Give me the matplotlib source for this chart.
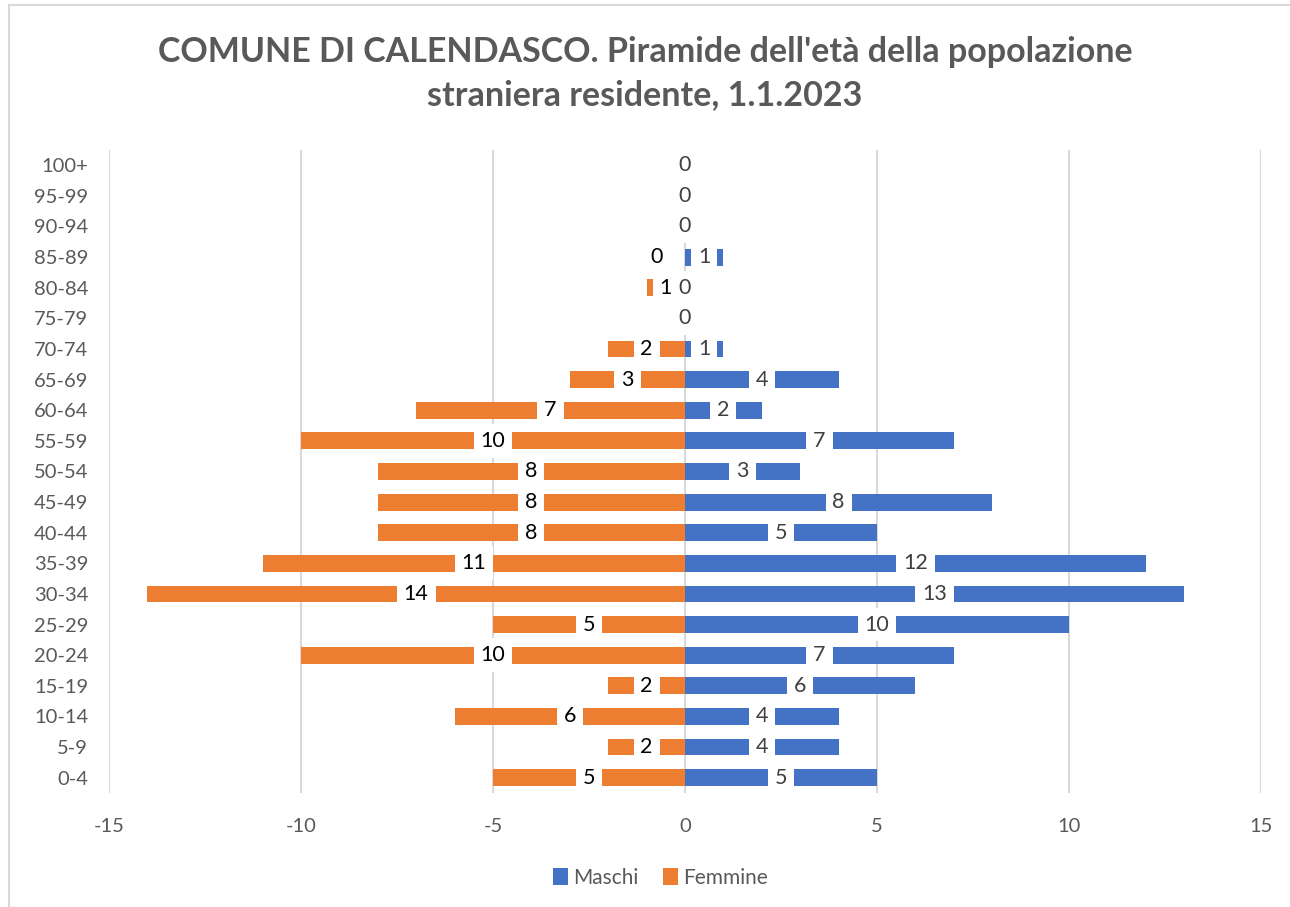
import matplotlib
matplotlib.use("Agg")
import matplotlib.pyplot as plt
import numpy as np
from matplotlib.patches import Rectangle

age_groups = ["0-4", "5-9", "10-14", "15-19", "20-24", "25-29", "30-34", "35-39",
              "40-44", "45-49", "50-54", "55-59", "60-64", "65-69", "70-74",
              "75-79", "80-84", "85-89", "90-94", "95-99", "100+"]
maschi = [5, 4, 4, 6, 7, 10, 13, 12, 5, 8, 3, 7, 2, 4, 1, 0, 0, 1, 0, 0, 0]
femmine = [5, 2, 6, 2, 10, 5, 14, 11, 8, 8, 8, 10, 7, 3, 2, 0, 1, 0, 0, 0, 0]
x_ticks = [-15, -10, -5, 0, 5, 10, 15]

BLUE = "#4472C4"
ORANGE = "#ED7D31"
GRID = "#D9D9D9"
TXT = "#595959"

plt.rcParams['font.family'] = ['Lato', 'DejaVu Sans']

fig = plt.figure(figsize=(12.9, 9.07), dpi=100)
ax = fig.add_axes([0.0845, 0.1257, 0.893, 0.709])

y = np.arange(len(age_groups))
f_neg = [-v for v in femmine]
bm = ax.barh(y, maschi, height=0.55, color=BLUE, label="Maschi", zorder=2)
bf = ax.barh(y, f_neg, height=0.55, color=ORANGE, label="Femmine", zorder=2)

# data labels in the middle of the bars, on a white box
for i in range(len(age_groups)):
    ax.text(maschi[i] / 2, y[i], str(maschi[i]), ha="center", va="center",
            fontsize=15.5, color="#404040", zorder=3,
            bbox=dict(facecolor="white", edgecolor="none", pad=5))
    fx = f_neg[i] / 2
    if femmine[i] == 0 and maschi[i] > 0:
        # Excel pushes the zero label aside when the male bar is there
        fx = -0.75
    ax.text(fx, y[i], str(femmine[i]), ha="center", va="center",
            fontsize=15.5, color="black", zorder=4 if femmine[i] else 2.5,
            bbox=dict(facecolor="white", edgecolor="none", pad=5))

ax.set_xlim(-15, 15)
ax.set_ylim(-0.5, len(age_groups) - 0.5)
ax.set_xticks(x_ticks)
ax.set_xticklabels([str(t) for t in x_ticks])
ax.set_yticks(y)
ax.set_yticklabels(age_groups)
ax.tick_params(axis="both", length=0, labelsize=14.5, labelcolor=TXT)
ax.tick_params(axis="x", pad=18)
ax.tick_params(axis="y", pad=15)
ax.grid(axis="x", color=GRID, linewidth=1.5, zorder=0)
ax.set_axisbelow(True)
for s in ax.spines.values():
    s.set_visible(False)

fig.text(0.5, 0.919, "COMUNE DI CALENDASCO. Piramide dell'età della popolazione\nstraniera residente, 1.1.2023",
         ha="center", va="center", fontsize=24.5, fontweight="bold", color=TXT,
         linespacing=1.45)

leg = fig.legend(handles=[bm, bf], loc="center", bbox_to_anchor=(0.512, 0.032),
                 ncol=2, frameon=False, fontsize=15, handlelength=0.7,
                 handleheight=0.9, handletextpad=0.25, columnspacing=1.2)
for t in leg.get_texts():
    t.set_color(TXT)

fig.patches.append(Rectangle((9 / 1290, -0.01), 1.02, 1 - 5 / 907 + 0.01,
                             transform=fig.transFigure, fill=False,
                             edgecolor=GRID, linewidth=1.5))

fig.savefig("out.png", dpi=100, facecolor="white")
